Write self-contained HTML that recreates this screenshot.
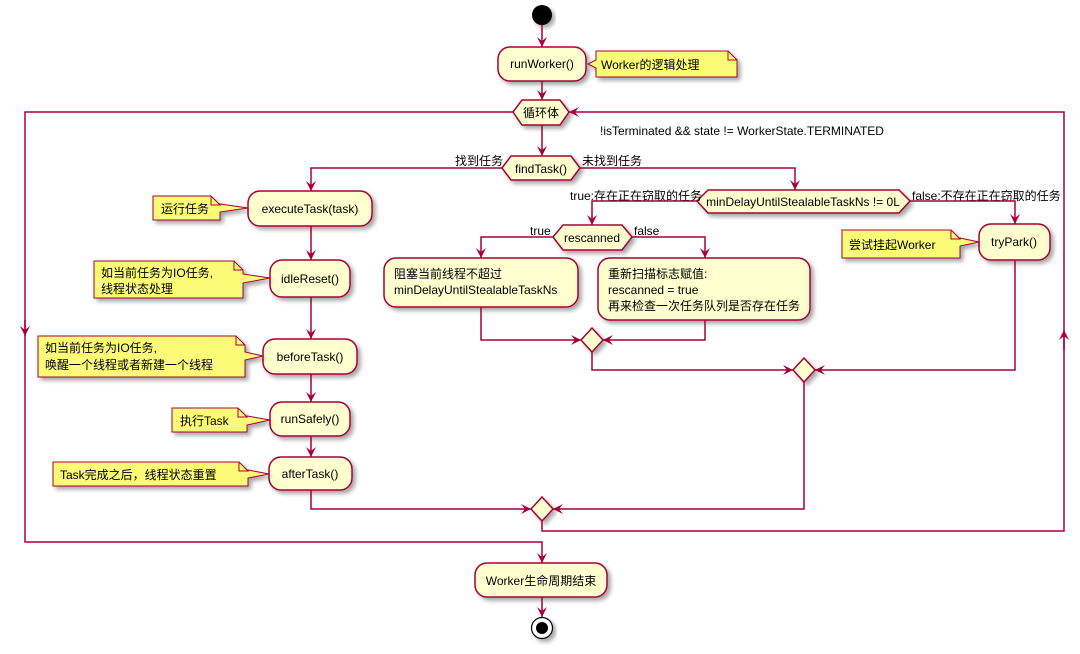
<!DOCTYPE html>
<html><head><meta charset="utf-8"><style>
html,body{margin:0;padding:0;background:#fff;}
svg{display:block;}
text{font-family:"Liberation Sans","Noto Sans CJK SC",sans-serif;font-size:12px;fill:#000;}
.n{fill:#FEFECE;stroke:#A80036;stroke-width:1.5;filter:url(#sh);}
.note{fill:#FBFB77;stroke:#A80036;stroke-width:1;filter:url(#sh);}
.l{fill:none;stroke:#A80036;stroke-width:1.5;}
</style></head><body>
<svg width="1080" height="654" viewBox="0 0 1080 654" xmlns="http://www.w3.org/2000/svg">
<defs>
<filter id="sh" x="-10%" y="-10%" width="130%" height="140%"><feGaussianBlur in="SourceAlpha" stdDeviation="2"/><feOffset dx="3" dy="3"/><feComponentTransfer><feFuncA type="linear" slope="0.35"/></feComponentTransfer><feMerge><feMergeNode/><feMergeNode in="SourceGraphic"/></feMerge></filter>
<marker id="a" markerWidth="12" markerHeight="12" refX="10" refY="5" orient="auto" markerUnits="userSpaceOnUse"><path d="M0,0 L10,5 L0,10 L4,5 Z" fill="#A80036"/></marker>
</defs>

<circle cx="542" cy="15" r="10" fill="#000" filter="url(#sh)"/>
<path class="l" d="M542,25 V47" marker-end="url(#a)"/>
<rect class="n" x="498" y="47" width="88" height="34" rx="12"/>
<text x="542" y="68" text-anchor="middle">runWorker()</text>
<path class="note" d="M596,51 H728 L737,60 V77 H596 V68 L588,64 L596,60 Z"/>
<path d="M728,51 V60 H737" fill="none" stroke="#A80036" stroke-width="1"/>
<text x="601" y="69" font-size="13">Worker的逻辑处理</text>
<path class="l" d="M542,81 V100" marker-end="url(#a)"/>

<path class="n" d="M513,112 L522,100 H560 L569,112 L560,125 H522 Z"/>
<text x="541" y="117" text-anchor="middle">循环体</text>
<text x="600" y="135">!isTerminated &amp;&amp; state != WorkerState.TERMINATED</text>
<path class="l" d="M513,112 H25 V542 H542 V563" marker-end="url(#a)"/>
<path class="l" d="M25,320 V336" marker-end="url(#a)"/>
<path class="l" d="M542,125 V156" marker-end="url(#a)"/>

<path class="n" d="M502,168 L511,156 H571 L580,168 L571,180 H511 Z"/>
<text x="541" y="173" text-anchor="middle">findTask()</text>
<text x="455" y="165">找到任务</text>
<text x="582" y="165">未找到任务</text>

<path class="l" d="M502,168 H311 V191" marker-end="url(#a)"/>
<rect class="n" x="248" y="191" width="124" height="35" rx="12"/>
<text x="310" y="213" text-anchor="middle">executeTask(task)</text>
<path class="note" d="M153,196 H211 L220,205 V204 L248,208 L220,212 V220 H153 Z"/>
<path d="M211,196 V205 H220" fill="none" stroke="#A80036" stroke-width="1"/>
<text x="161" y="213" font-size="13">运行任务</text>

<path class="l" d="M311,226 V260" marker-end="url(#a)"/>
<rect class="n" x="270" y="260" width="80" height="37" rx="12"/>
<text x="310" y="283" text-anchor="middle">idleReset()</text>
<path class="note" d="M94,261 H234 L243,270 V274 L270,278 L243,283 V298 H94 Z"/>
<path d="M234,261 V270 H243" fill="none" stroke="#A80036" stroke-width="1"/>
<text x="101" y="277" font-size="13">如当前任务为IO任务,</text>
<text x="101" y="293" font-size="13">线程状态处理</text>

<path class="l" d="M311,297 V339" marker-end="url(#a)"/>
<rect class="n" x="263" y="339" width="94" height="35" rx="12"/>
<text x="310" y="361" text-anchor="middle">beforeTask()</text>
<path class="note" d="M38,336 H236 L245,345 V352 L263,356 L245,360 V377 H38 Z"/>
<path d="M236,336 V345 H245" fill="none" stroke="#A80036" stroke-width="1"/>
<text x="45" y="352" font-size="13">如当前任务为IO任务,</text>
<text x="45" y="369" font-size="13">唤醒一个线程或者新建一个线程</text>

<path class="l" d="M311,374 V402" marker-end="url(#a)"/>
<rect class="n" x="270" y="402" width="80" height="34" rx="12"/>
<text x="310" y="423" text-anchor="middle">runSafely()</text>
<path class="note" d="M172,408 H238 L247,417 V416 L270,420 L247,425 V432 H172 Z"/>
<path d="M238,408 V417 H247" fill="none" stroke="#A80036" stroke-width="1"/>
<text x="180" y="425" font-size="13">执行Task</text>

<path class="l" d="M311,436 V457" marker-end="url(#a)"/>
<rect class="n" x="269" y="457" width="83" height="33" rx="12"/>
<text x="310" y="478" text-anchor="middle">afterTask()</text>
<path class="note" d="M53,462 H239 L248,471 V470 L269,474 L248,478 V486 H53 Z"/>
<path d="M239,462 V471 H248" fill="none" stroke="#A80036" stroke-width="1"/>
<text x="60" y="479" font-size="13">Task完成之后，线程状态重置</text>

<path class="l" d="M311,490 V509 H531" marker-end="url(#a)"/>

<path class="l" d="M580,168 H795 V190" marker-end="url(#a)"/>
<path class="n" d="M697,201 L708,190 H899 L910,201 L899,213 H708 Z"/>
<text x="803" y="206" text-anchor="middle">minDelayUntilStealableTaskNs != 0L</text>
<text x="570" y="200">true:存在正在窃取的任务</text>
<text x="912" y="200">false:不存在正在窃取的任务</text>

<path class="l" d="M697,201 H592 V225" marker-end="url(#a)"/>
<path class="n" d="M553,237 L563,225 H622 L632,237 L622,250 H563 Z"/>
<text x="592" y="242" text-anchor="middle">rescanned</text>
<text x="530" y="235">true</text>
<text x="634" y="235">false</text>

<path class="l" d="M553,237 H481 V258" marker-end="url(#a)"/>
<path class="l" d="M632,237 H705 V258" marker-end="url(#a)"/>
<rect class="n" x="384" y="258" width="194" height="49" rx="12"/>
<text x="394" y="278">阻塞当前线程不超过</text>
<text x="394" y="294">minDelayUntilStealableTaskNs</text>
<rect class="n" x="598" y="258" width="212" height="62" rx="12"/>
<text x="608" y="278">重新扫描标志赋值:</text>
<text x="608" y="294">rescanned = true</text>
<text x="608" y="310">再来检查一次任务队列是否存在任务</text>

<path class="l" d="M481,307 V340 H581" marker-end="url(#a)"/>
<path class="l" d="M705,320 V340 H603" marker-end="url(#a)"/>
<path class="n" d="M592,328 L603,340 L592,352 L581,340 Z"/>
<path class="l" d="M592,352 V370 H793" marker-end="url(#a)"/>

<path class="l" d="M910,201 H1015 V224" marker-end="url(#a)"/>
<rect class="n" x="979" y="224" width="71" height="36" rx="12"/>
<text x="1014" y="246" text-anchor="middle">tryPark()</text>
<path class="note" d="M842,230 H951 L960,239 V238 L979,242 L960,246 V258 H842 Z"/>
<path d="M951,230 V239 H960" fill="none" stroke="#A80036" stroke-width="1"/>
<text x="849" y="249" font-size="13">尝试挂起Worker</text>
<path class="l" d="M1015,260 V370 H815" marker-end="url(#a)"/>
<path class="n" d="M804,358 L815,370 L804,382 L793,370 Z"/>
<path class="l" d="M804,382 V509 H553" marker-end="url(#a)"/>

<path class="n" d="M542,497 L553,509 L542,521 L531,509 Z"/>
<path class="l" d="M542,521 V531 H1064 V112 H569" marker-end="url(#a)"/>
<path class="l" d="M1064,350 V330" marker-end="url(#a)"/>

<rect class="n" x="475" y="563" width="132" height="34" rx="12"/>
<text x="541" y="585" text-anchor="middle">Worker生命周期结束</text>
<path class="l" d="M542,597 V617" marker-end="url(#a)"/>
<circle cx="542" cy="628" r="10.5" fill="#fff" stroke="#000" stroke-width="1.2" filter="url(#sh)"/>
<circle cx="542" cy="628" r="6" fill="#000"/>
</svg>
</body></html>
